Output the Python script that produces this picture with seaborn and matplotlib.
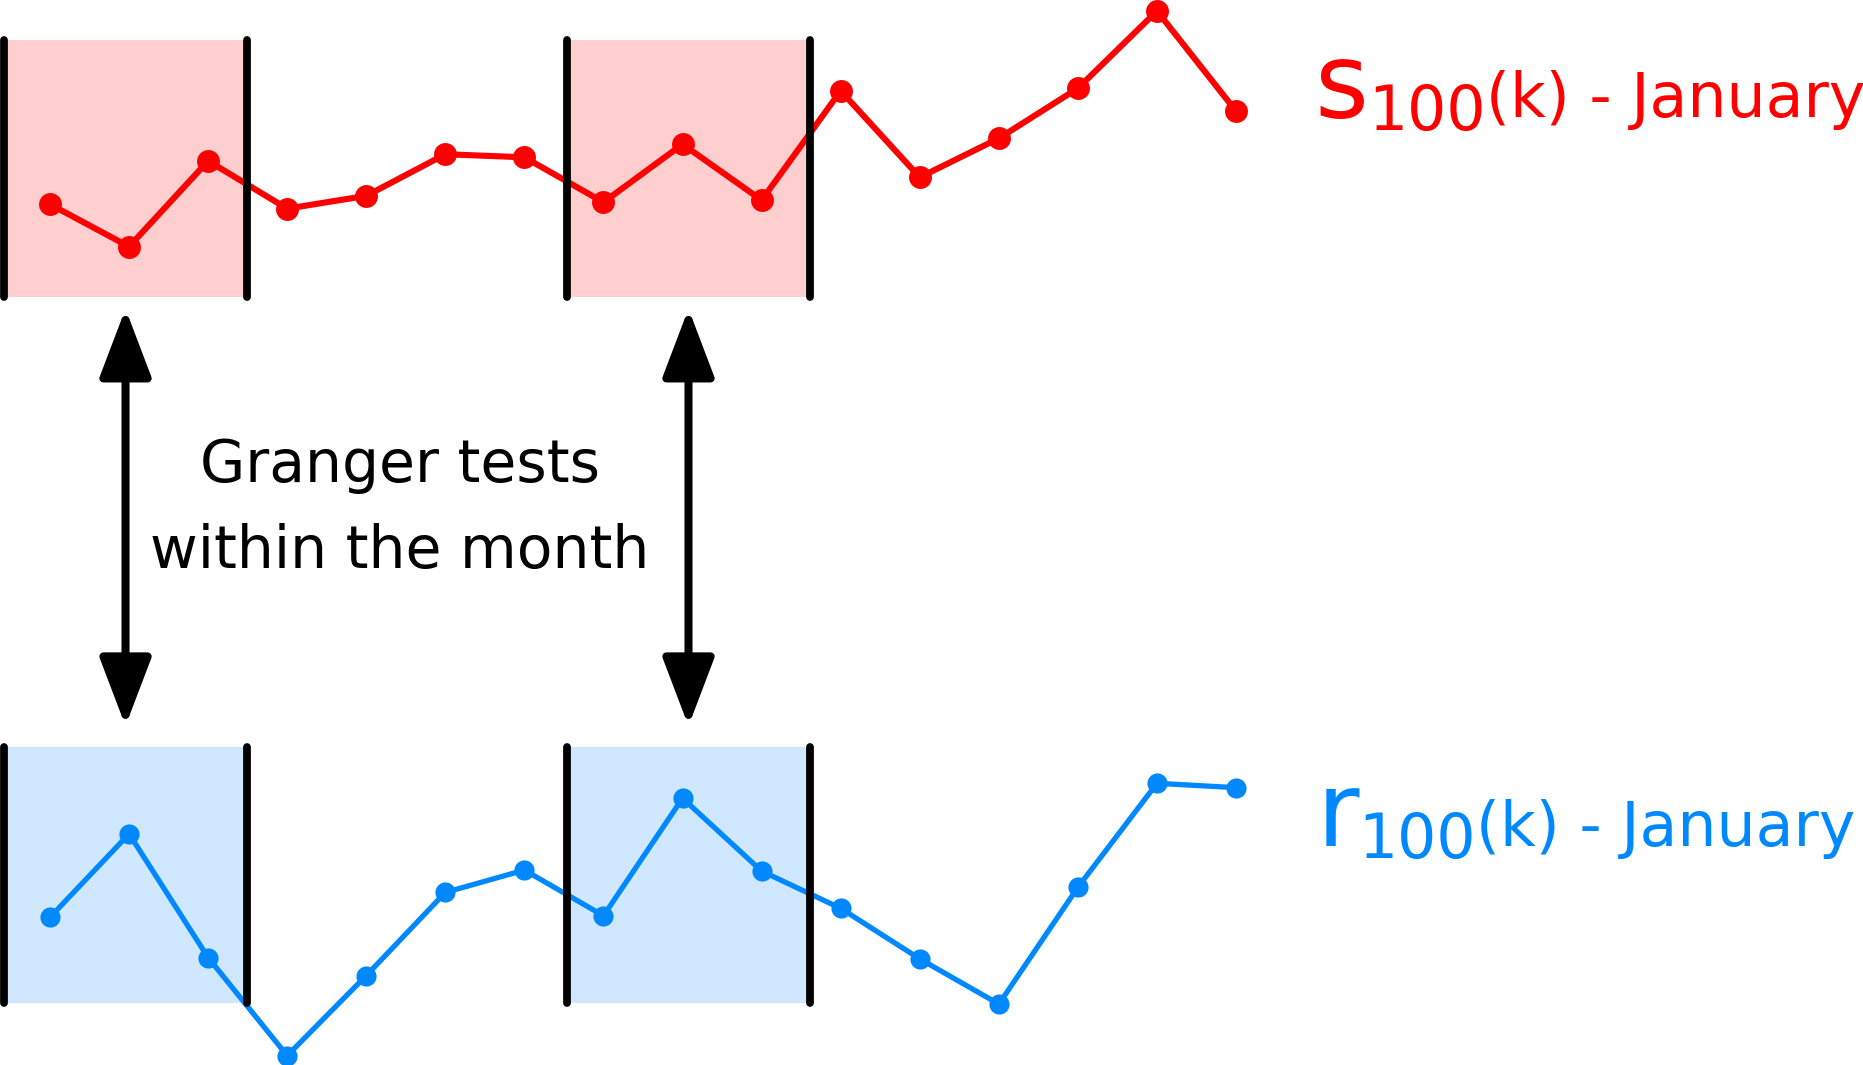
import numpy as np
import matplotlib
matplotlib.use("Agg")
import matplotlib.pyplot as plt
import seaborn as sns

# series (values relative to the shaded band: 0 = bottom, 1 = top)
steps = list(range(16))
s_vals = [0.360, 0.195, 0.529, 0.343, 0.393, 0.555, 0.543, 0.368,
          0.594, 0.376, 0.802, 0.465, 0.617, 0.812, 1.113, 0.723]
r_vals = [0.335, 0.660, 0.178, -0.204, 0.108, 0.432, 0.519, 0.341,
          0.799, 0.515, 0.370, 0.173, -0.003, 0.452, 0.857, 0.840]
windows = [(-0.58, 2.49), (6.54, 9.61)]
caption = ["Granger tests", "within the month"]

RED = "#ff0000"
BLUE = "#0088ff"
W, H = 1863, 1065

sns.set_style("white")
plt.rcParams['font.family'] = ['DejaVu Sans']
plt.rcParams['text.color'] = 'black'

fig = plt.figure(figsize=(W / 100, H / 100), dpi=100)


def px(x, y):
    # pixel position -> figure fraction
    return x / W, 1 - y / H


xlim = (-50 / 79.07, (W - 50) / 79.07)
ax_top = fig.add_axes([0, 1 - 296.7 / H, 1, 256.7 / H])
ax_bot = fig.add_axes([0, 1 - 1003.3 / H, 1, 256.7 / H])

for ax, vals, col, lw, ms in [(ax_top, s_vals, RED, 4.4, 16.5),
                              (ax_bot, r_vals, BLUE, 3.8, 14.5)]:
    for a, b in windows:
        ax.axvspan(a, b, color=col, alpha=0.19, lw=0, zorder=0)
        for xv in (a, b):
            ax.axvline(xv, color="black", lw=5.6, solid_capstyle="round",
                       clip_on=False, zorder=5)
    sns.lineplot(x=steps, y=vals, ax=ax, color=col, lw=lw, marker="o",
                 ms=ms, mec=col, mew=0, clip_on=False, zorder=3)
    ax.set_xlim(xlim)
    ax.set_ylim(0, 1)
    ax.set_axis_off()

# double arrows at the middle of each window
for a, b in windows:
    c = (a + b) / 2
    ax_top.annotate("", xy=(c, 1.08), xycoords=ax_bot.get_xaxis_transform(),
                    xytext=(c, -0.047), textcoords=ax_top.get_xaxis_transform(),
                    annotation_clip=False,
                    arrowprops=dict(arrowstyle="<|-|>,head_length=1.0,head_width=0.38",
                                    mutation_scale=42, lw=5.8, color="black",
                                    shrinkA=0, shrinkB=0))

fig.text(*px(400, 481.7), caption[0], ha="center", va="baseline", fontsize=42)
fig.text(*px(400, 568), caption[1], ha="center", va="baseline", fontsize=42)

# series labels
big, small = 74.6, 44.4
fig.text(*px(1314, 118.3), "s", color=RED, fontsize=big, va="baseline")
fig.text(*px(1368, 130), "100", color=RED, fontsize=small, va="baseline")
fig.text(*px(1486, 117.5), "(k) - January", color=RED, fontsize=small, va="baseline")

fig.text(*px(1316.5, 846), "r", color=BLUE, fontsize=big, va="baseline")
fig.text(*px(1358, 858.3), "100", color=BLUE, fontsize=small, va="baseline")
fig.text(*px(1476, 846), "(k) - January", color=BLUE, fontsize=small, va="baseline")

fig.savefig("out.png", dpi=100)
